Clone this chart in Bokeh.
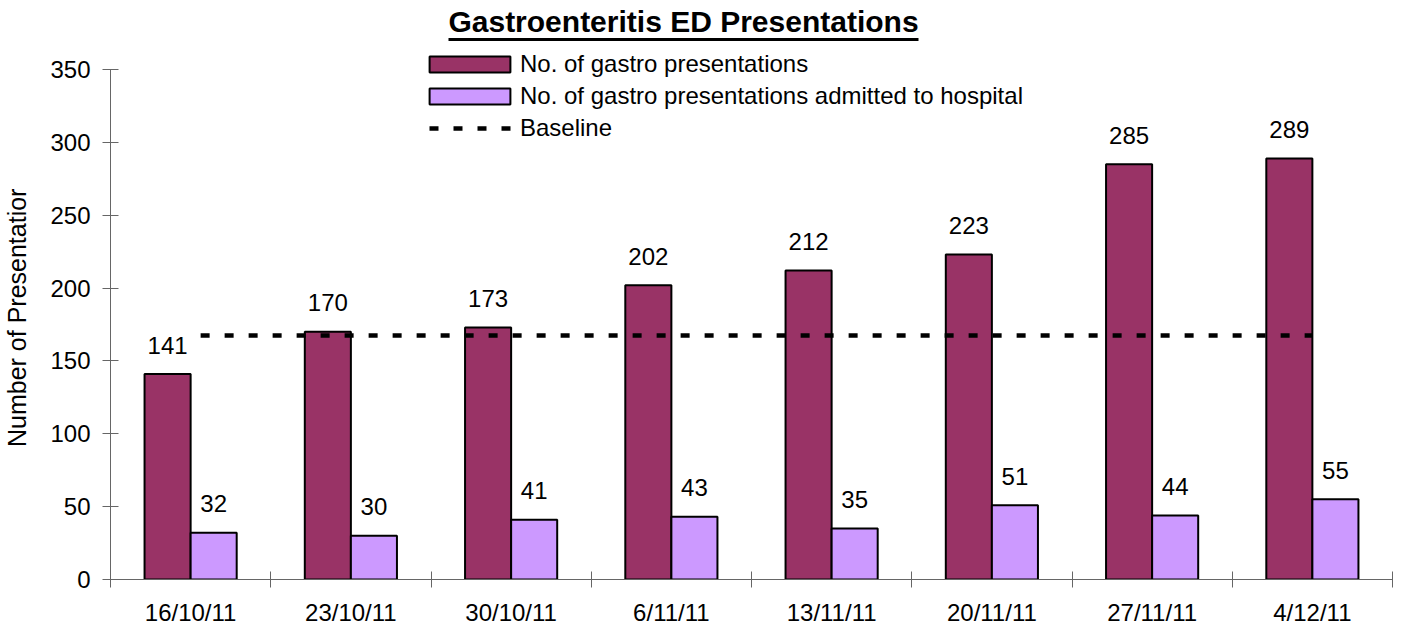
from bokeh.plotting import figure
from bokeh.models import (FactorRange, Range1d, LinearAxis, FixedTicker,
                          ColumnDataSource, Label, Legend, LegendItem)
from bokeh.core.properties import value
from bokeh.transform import dodge
from bokeh.embed import file_html
from bokeh.resources import INLINE

# ---------------- data ----------------
dates = ["16/10/11", "23/10/11", "30/10/11", "6/11/11",
         "13/11/11", "20/11/11", "27/11/11", "4/12/11"]
presentations = [141, 170, 173, 202, 212, 223, 285, 289]
admitted = [32, 30, 41, 43, 35, 51, 44, 55]
baseline_value = 167.5
y_ticks = [0, 50, 100, 150, 200, 250, 300, 350]

title_text = "Gastroenteritis ED Presentations"
series_names = ["No. of gastro presentations",
                "No. of gastro presentations admitted to hospital",
                "Baseline"]
y_label = "Number of Presentatior"

# ---------------- style / layout ----------------
MAROON = "#993366"
LILAC = "#CC99FF"
AXIS = "#666666"
FONT = "Liberation Sans"

W, H = 1402, 628
FL, FR, FT, FB = 110, 10, 0, 49
frame_w = W - FL - FR
frame_h = H - FT - FB
axis_px = 510                      # pixel height of 0..350
y_max = y_ticks[-1]
y_top = y_max * frame_h / axis_px  # frame extends above 350 for title/legend
BAR_W = 0.2875
OFF = BAR_W / 2
NBSP = "\u00a0"


def ux(px):   # canvas px -> category units
    return (px - FL) / frame_w * len(dates)


def uy(py):   # canvas py -> value units
    return (H - FB - py) / axis_px * y_max


p = figure(width=W, height=H,
           x_range=FactorRange(*dates, range_padding=0),
           y_range=Range1d(0, y_top),
           output_backend="svg", toolbar_location=None,
           x_axis_location=None,
           min_border_left=FL, min_border_right=FR,
           min_border_top=FT, min_border_bottom=FB)
p.outline_line_color = None
p.grid.grid_line_color = None
p.background_fill_color = "white"
p.border_fill_color = "white"

source = ColumnDataSource(dict(
    date=dates,
    pres=presentations,
    adm=admitted,
    pres_txt=[str(v) for v in presentations],
    adm_txt=[str(v) for v in admitted],
    base=[baseline_value] * len(dates),
))

r1 = p.vbar(x=dodge("date", -OFF, range=p.x_range), top="pres", width=BAR_W,
            source=source, fill_color=MAROON, line_color="black", line_width=2)
r2 = p.vbar(x=dodge("date", OFF, range=p.x_range), top="adm", width=BAR_W,
            source=source, fill_color=LILAC, line_color="black", line_width=2)
r3 = p.line(x="date", y="base", source=source, line_color="black",
            line_width=4.5, line_dash="9 15", line_dash_offset=14)

p.text(x=dodge("date", -OFF, range=p.x_range), y="pres", text="pres_txt",
       source=source, text_align="center", text_baseline="middle",
       y_offset=-29, text_font=value(FONT),
       text_font_size="24px", text_color="black")
p.text(x=dodge("date", OFF, range=p.x_range), y="adm", text="adm_txt",
       source=source, text_align="center", text_baseline="middle",
       y_offset=-29, text_font=value(FONT),
       text_font_size="24px", text_color="black")

# title with underline
p.add_layout(Label(x=ux(683), y=uy(21), text=title_text, text_font=FONT,
                   text_font_size="30px", text_font_style="bold",
                   text_align="center", text_baseline="middle",
                   text_color="black"))
p.segment(x0=[ux(448)], y0=[uy(39)], x1=[ux(918)], y1=[uy(39)],
          line_color="black", line_width=3)

# legend
legend = Legend(items=[LegendItem(label=series_names[0], renderers=[r1]),
                       LegendItem(label=series_names[1], renderers=[r2]),
                       LegendItem(label=series_names[2], renderers=[r3])],
                location=(309, 437), glyph_width=101, glyph_height=20,
                label_standoff=-4, label_text_font=FONT,
                label_text_font_size="24px", label_text_color="black",
                spacing=4, padding=0, margin=0,
                border_line_color=None, background_fill_alpha=0)
p.add_layout(legend)

# y axis
yax = p.yaxis[0]
yax.ticker = FixedTicker(ticks=y_ticks)
yax.bounds = (0, y_max)
yax.major_tick_in = 8
yax.major_tick_out = 8
yax.minor_tick_line_color = None
yax.axis_line_color = AXIS
yax.major_tick_line_color = AXIS
yax.major_label_text_font = FONT
yax.major_label_text_font_size = "24px"
yax.major_label_text_color = "black"
yax.major_label_standoff = 12
# trailing no-break spaces move the (frame-centred) title down to where the reference has it
yax.axis_label = y_label + NBSP * 8
yax.axis_label_text_font = FONT
yax.axis_label_text_font_size = "25px"
yax.axis_label_text_font_style = "normal"
yax.axis_label_text_color = "black"
yax.axis_label_standoff = 16

# x axis: labels at category centres, tick marks (minor) at category boundaries
centres = [i + 0.5 for i in range(len(dates))]
bounds = [float(i) for i in range(len(dates) + 1)]
xax = LinearAxis(ticker=FixedTicker(ticks=centres, minor_ticks=bounds),
                 major_label_overrides={c: d for c, d in zip(centres, dates)},
                 major_tick_line_color=None, major_tick_in=0, major_tick_out=0,
                 minor_tick_in=8, minor_tick_out=8, minor_tick_line_color=AXIS,
                 axis_line_color=AXIS, major_label_standoff=11,
                 major_label_text_font=FONT, major_label_text_font_size="24px",
                 major_label_text_color="black")
p.add_layout(xax, "below")

open("out.html", "w").write(file_html(p, INLINE, title=title_text))
